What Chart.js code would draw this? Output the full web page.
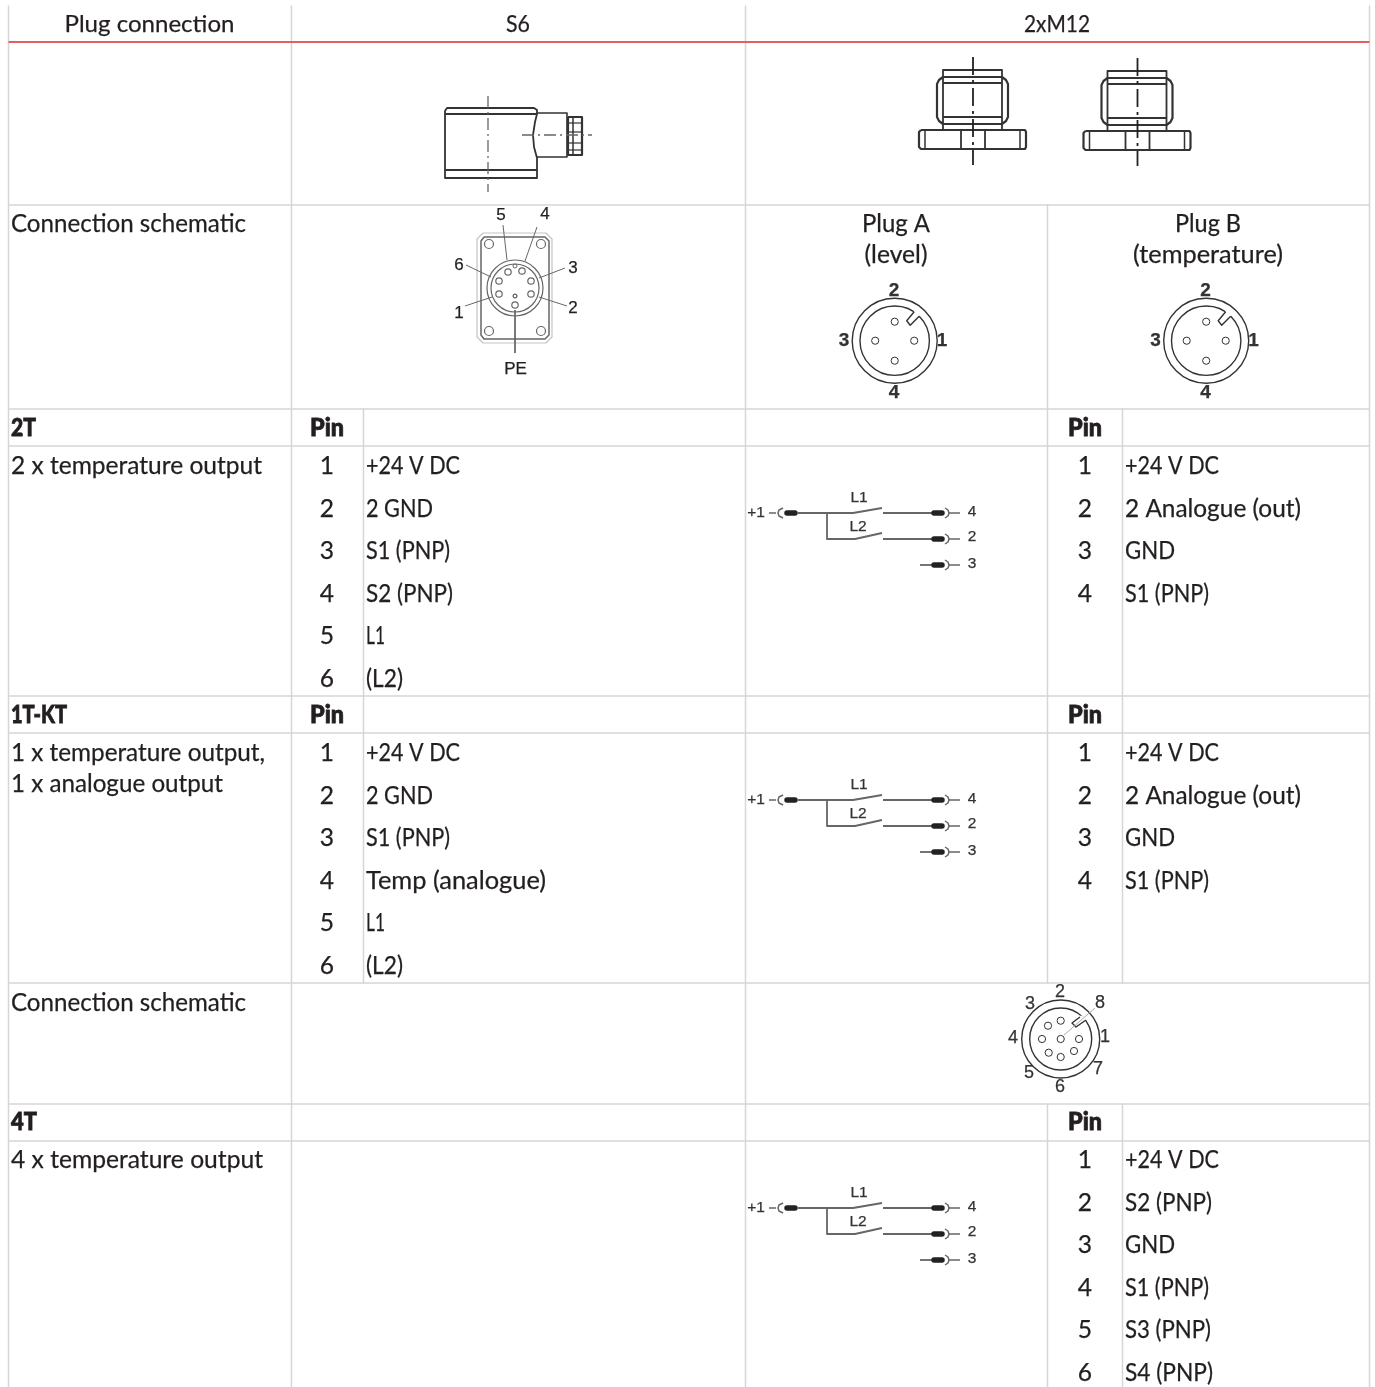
<!DOCTYPE html>
<html>
<head>
<meta charset="utf-8">
<title>Plug connection</title>
<script src="https://cdn.jsdelivr.net/npm/chart.js@4"></script>
<style>
html, body { margin: 0; padding: 0; background: #fff; }
canvas { display: block; }
</style>
</head>
<body>
<canvas id="myChart" width="1375" height="1387"></canvas>
<script>
// table content
const headers = ["Plug connection", "S6", "2xM12"];
const schematicLabel = "Connection schematic";
const sections = ["2T", "1T-KT", "4T"];
const pinHeader = "Pin";
const pinNumbers = ["1", "2", "3", "4", "5", "6"];
const descr2T = ["2 x temperature output"];
const descr1T = ["1 x temperature output,", "1 x analogue output"];
const descr4T = ["4 x temperature output"];
const s6Pins2T = ["+24 V DC", "2 GND", "S1 (PNP)", "S2 (PNP)", "L1", "(L2)"];
const s6Pins1T = ["+24 V DC", "2 GND", "S1 (PNP)", "Temp (analogue)", "L1", "(L2)"];
const plugBPins = ["+24 V DC", "2 Analogue (out)", "GND", "S1 (PNP)"];
const plug4TPins = ["+24 V DC", "S2 (PNP)", "GND", "S1 (PNP)", "S3 (PNP)", "S4 (PNP)"];
const plugALabel = ["Plug A", "(level)"];
const plugBLabel = ["Plug B", "(temperature)"];

// table layout, in page pixels
const colEdges = [8.5, 291.5, 363.5, 745.5, 1047.5, 1122.5, 1369.5];
const ruleYs = [205, 409, 446, 696, 733, 983, 1104, 1141];
const pageBottom = 1387;

// the original typeface has narrow capitals, Lato gets squeezed to these widths
const textWidths = {
    "Plug connection": 170, "S6": 24, "2xM12": 66, "Connection schematic": 235,
    "2 x temperature output": 251, "1 x temperature output,": 254, "1 x analogue output": 212,
    "4 x temperature output": 252, "+24 V DC": 94, "2 GND": 67, "S1 (PNP)": 84, "S2 (PNP)": 87,
    "S3 (PNP)": 86, "S4 (PNP)": 88, "L1": 19, "(L2)": 37, "Temp (analogue)": 180,
    "2 Analogue (out)": 176, "GND": 50, "Plug A": 68, "(level)": 63, "Plug B": 66,
    "(temperature)": 150, "2T": 25, "1T-KT": 56, "4T": 26, "Pin": 34
};

const GRID = "#d6d6d6";
const INK = "#333333";
const GREY = "#666666";
const TEXT = "#231f20";
const BODY_FONT = '24.6px Lato';
const HEAD_FONT = '24px Lato';
const BOLD_FONT = '900 25px Lato';
const ARIAL = 'Liberation Sans';

let datasets = [];
let texts = [];

const poly = (pts, color = INK, width = 1.5, dash = [], cap = 'butt') => {
    datasets.push({
        data: pts.map(p => ({ x: p[0], y: p[1] })),
        showLine: true,
        pointRadius: 0,
        borderColor: color,
        borderWidth: width,
        borderDash: dash,
        borderCapStyle: cap,
        borderJoinStyle: 'round',
        tension: 0
    });
};

const ring = (x, y, r, color = INK, width = 1.5) => {
    datasets.push({
        data: [{ x: x, y: y }],
        showLine: false,
        pointStyle: 'circle',
        pointRadius: r,
        pointBorderWidth: width,
        pointBorderColor: color,
        pointBackgroundColor: 'rgba(0,0,0,0)'
    });
};

const text = (str, x, y, font = BODY_FONT, align = 'left', color = TEXT) => {
    texts.push({ str, x, y, font, align, color });
};

// grid
const vert = (x, y0, y1) => poly([[x, y0], [x, y1]], GRID, 1.5);
const horiz = (y) => poly([[colEdges[0], y], [colEdges[6], y]], GRID, 1.5);
ruleYs.forEach(horiz);
vert(colEdges[0], 6, pageBottom);
vert(colEdges[1], 6, pageBottom);
vert(colEdges[3], 6, pageBottom);
vert(colEdges[6], 6, pageBottom);
vert(colEdges[2], ruleYs[1], ruleYs[5]);
vert(colEdges[4], ruleYs[0], ruleYs[5]);
vert(colEdges[5], ruleYs[1], ruleYs[5]);
vert(colEdges[4], ruleYs[6], pageBottom);
vert(colEdges[5], ruleYs[6], pageBottom);
poly([[colEdges[0], 42], [colEdges[6], 42]], "#e4605f", 2);

// S6 side view
const drawS6Side = () => {
    poly([[445, 176], [445, 111], [447, 108], [534, 108], [537, 110], [537, 114], [535, 122], [533, 135], [534, 147], [537, 158], [537, 178], [445, 178], [445, 176]], INK, 1.8);
    poly([[445, 114], [537, 114]], INK, 2.2);
    poly([[445, 170], [537, 170]], INK, 2.2);
    poly([[537, 113], [567, 113], [567, 157], [537, 157]], INK, 1.6);
    poly([[568, 117], [582, 117], [582, 155], [568, 155], [568, 117]], INK, 2.2);
    poly([[573, 117], [573, 155]]);
    [123, 132, 143, 150].forEach(y => poly([[568, y], [582, y]], INK, 1.2));
    poly([[488, 96], [488, 192]], GREY, 1.3, [12, 4, 2, 4]);
    poly([[522, 135], [592, 135]], GREY, 1.6, [12, 4, 2, 4]);
};

// M12 side view
const drawM12Side = (dx, dy) => {
    const P = (pts, c, w, d) => poly(pts.map(p => [p[0] + dx, p[1] + dy]), c, w, d);
    P([[943, 129], [943, 70], [1002, 70], [1002, 129]], INK, 1.8);
    P([[943, 77], [1002, 77]], INK, 2.2);
    P([[943, 83], [1002, 83]], INK, 2.2);
    P([[943, 117], [1002, 117]], INK, 2.2);
    P([[943, 124], [1002, 124]], INK, 2.2);
    P([[943, 77], [939, 80], [937, 84], [937, 117], [939, 121], [943, 124]], INK, 2.2);
    P([[1002, 77], [1006, 80], [1008, 84], [1008, 117], [1006, 121], [1002, 124]], INK, 2.2);
    P([[921, 130], [1025, 130], [1026, 132], [1026, 147], [1025, 149], [921, 149], [919, 147], [919, 132], [921, 130]], INK, 2.2);
    P([[925, 130], [925, 149]]);
    P([[1020, 130], [1020, 149]]);
    P([[961, 130], [961, 149]], INK, 1.8);
    P([[985, 130], [985, 149]], INK, 1.8);
    P([[973, 57], [973, 165]], "#222", 1.8, [18, 5, 3, 5]);
};

// S6 pin face
const drawS6Face = () => {
    poly([[483, 233], [546, 233], [552, 239], [552, 337], [546, 343], [483, 343], [477, 337], [477, 239], [483, 233]], "#c4c4c4", 1.2);
    poly([[484, 237], [545, 237], [549, 241], [549, 335], [545, 339], [484, 339], [481, 335], [481, 241], [484, 237]], GREY, 1.5);
    [[489, 244], [541, 244], [489, 331], [541, 331]].forEach(c => ring(c[0], c[1], 4.5, GREY, 1.2));
    ring(515, 288, 24, GREY, 1.2);
    ring(515, 288, 28, GREY, 1.2);
    [[508, 272], [522, 271], [499, 281], [531, 281], [499, 294], [531, 294], [515, 305]].forEach(c => ring(c[0], c[1], 3.2, GREY, 1.2));
    ring(515, 296, 2, INK, 1);
    ring(515, 266, 2, GREY, 1);
    const leaders = [
        [[503, 225], [507, 260]], [[537, 227], [525, 261]], [[466, 265], [491, 277]],
        [[565, 268], [539, 278]], [[465, 306], [492, 297]], [[567, 306], [539, 297]], [[515, 310], [515, 353]]
    ];
    leaders.forEach(l => poly(l, GREY, 1));
    const face = '17px ' + ARIAL;
    text("5", 501, 215, face, 'center');
    text("4", 545, 214, face, 'center');
    text("6", 459, 265, face, 'center');
    text("3", 573, 268, face, 'center');
    text("1", 459, 313, face, 'center');
    text("2", 573, 308, face, 'center');
    text("PE", 515.5, 369, face, 'center');
};

// M12 4-pin face
const drawM12Face = (dx) => {
    const cx = 894.7 + dx, cy = 340.7;
    ring(cx, cy, 42.5, INK, 1.4);
    ring(cx, cy, 34.7, INK, 1.4);
    [[0, -19], [-19.5, 0], [19.5, 0], [0, 20]].forEach(o => ring(cx + o[0], cy + o[1], 3.6, INK, 1));
    poly([[cx + 19, cy - 29], [cx + 24, cy - 24]], "#ffffff", 4);
    poly([[cx + 19.5, cy - 29], [cx + 12, cy - 20], [cx + 15.5, cy - 15.5], [cx + 24.5, cy - 24.5]], INK, 1.4);
    const face = 'bold 19px ' + ARIAL;
    text("2", cx - 0.7, 291, face, 'center', "#333");
    text("3", cx - 50.7, 341, face, 'center', "#333");
    text("1", cx + 47.3, 341, face, 'center', "#333");
    text("4", cx - 0.7, 393, face, 'center', "#333");
};

// M12 8-pin face
const drawM12Eight = () => {
    const cx = 1060.7, cy = 1039;
    ring(cx, cy, 39, INK, 1.4);
    ring(cx, cy, 31, INK, 1.4);
    [[0, -18.3], [-12.7, -13.3], [-18.7, 0], [-12, 13.7], [0, 18], [13.3, 12], [18.3, 0], [0, 0]].forEach(o => ring(cx + o[0], cy + o[1], 3.6, INK, 1));
    poly([[1080, 1017], [1086, 1020]], "#ffffff", 4);
    poly([[1080, 1017], [1072, 1023], [1076, 1027], [1086, 1020]], INK, 1.4);
    poly([[1095, 1008], [1064, 1035]], "#aaaaaa", 1);
    const face = '18px ' + ARIAL;
    [["2", 1060, 992], ["3", 1030, 1004], ["8", 1100, 1003], ["4", 1013, 1038], ["1", 1105, 1037], ["5", 1029, 1073], ["7", 1098, 1069], ["6", 1060, 1087]]
        .forEach(l => text(l[0], l[1], l[2], face, 'center', "#333"));
};

// switch wiring diagram
const drawWiring = (dy) => {
    const P = (pts, c, w, cap) => poly(pts.map(p => [p[0], p[1] + dy]), c, w, [], cap);
    const socketR = (x0, y) => {
        P([[x0, y], [933, y]], GREY, 1.8);
        P([[934, y], [942, y]], "#222", 5.5, 'round');
        P([[945, y - 5], [948, y - 3], [949, y], [948, y + 3], [945, y + 5]], GREY, 1.5);
        P([[949, y], [960, y]], GREY, 1.5);
    };
    P([[769, 513], [776, 513]], GREY, 1.5);
    P([[783, 508], [779, 510], [778, 513], [779, 516], [783, 518]], GREY, 1.5);
    P([[787, 513], [795, 513]], "#222", 5.5, 'round');
    P([[797, 513], [853, 513], [882, 508]], GREY, 1.8);
    P([[827, 513], [827, 539], [855, 539], [882, 533]], GREY, 1.8);
    socketR(883, 513);
    socketR(883, 539);
    socketR(920, 565);
    const face = '15.5px ' + ARIAL;
    text("+1", 756, 513 + dy, face, 'center', "#333");
    text("L1", 859, 498 + dy, face, 'center', "#333");
    text("L2", 858, 527 + dy, face, 'center', "#333");
    text("4", 972, 512 + dy, face, 'center', "#333");
    text("2", 972, 537 + dy, face, 'center', "#333");
    text("3", 972, 564 + dy, face, 'center', "#333");
};

drawS6Side();
drawM12Side(0, 0);
drawM12Side(164.5, 1);
drawS6Face();
drawM12Face(0);
drawM12Face(311.5);
drawM12Eight();
drawWiring(0);
drawWiring(287);
drawWiring(695);

// text of the table
const headerCenters = [149.5, 518, 1057];
headers.forEach((h, i) => text(h, headerCenters[i], 24, HEAD_FONT, 'center'));

text(schematicLabel, 11, 224);
plugALabel.forEach((s, i) => text(s, 896, 224 + i * 31, BODY_FONT, 'center'));
plugBLabel.forEach((s, i) => text(s, 1208, 224 + i * 31, BODY_FONT, 'center'));
text(schematicLabel, 11, 1003);

const LEFT = 11, PIN_A = 327, TEXT_A = 366, PIN_B = 1085, TEXT_B = 1125, STEP = 42.6;
const pinColumn = (labels, pinX, textX, y0) => {
    labels.forEach((s, i) => {
        text(pinNumbers[i], pinX, y0 + i * STEP, BODY_FONT, 'center');
        text(s, textX, y0 + i * STEP);
    });
};

text(sections[0], LEFT, 428, BOLD_FONT);
text(pinHeader, PIN_A, 428, BOLD_FONT, 'center');
text(pinHeader, PIN_B, 428, BOLD_FONT, 'center');
descr2T.forEach((s, i) => text(s, LEFT, 466 + i * 31));
pinColumn(s6Pins2T, PIN_A, TEXT_A, 466);
pinColumn(plugBPins, PIN_B, TEXT_B, 466);

text(sections[1], LEFT, 715, BOLD_FONT);
text(pinHeader, PIN_A, 715, BOLD_FONT, 'center');
text(pinHeader, PIN_B, 715, BOLD_FONT, 'center');
descr1T.forEach((s, i) => text(s, LEFT, 753 + i * 31));
pinColumn(s6Pins1T, PIN_A, TEXT_A, 753);
pinColumn(plugBPins, PIN_B, TEXT_B, 753);

text(sections[2], LEFT, 1122, BOLD_FONT);
text(pinHeader, PIN_B, 1122, BOLD_FONT, 'center');
descr4T.forEach((s, i) => text(s, LEFT, 1160 + i * 31));
pinColumn(plug4TPins, PIN_B, TEXT_B, 1160);

const tableText = {
    id: 'tableText',
    afterDatasetsDraw(chart) {
        const ctx = chart.ctx;
        const sx = chart.scales.x, sy = chart.scales.y;
        texts.forEach(t => {
            ctx.save();
            ctx.textBaseline = 'middle';
            ctx.font = t.font;
            ctx.textAlign = t.align;
            ctx.fillStyle = t.color;
            ctx.strokeStyle = t.color;
            ctx.translate(sx.getPixelForValue(t.x), sy.getPixelForValue(t.y));
            const isLato = t.font.includes('Lato');
            if (isLato && textWidths[t.str]) {
                ctx.scale(textWidths[t.str] / ctx.measureText(t.str).width, 1);
            }
            ctx.fillText(t.str, 0, 0);
            // the original text is heavier than Lato
            ctx.lineWidth = t.font === BOLD_FONT ? 0.8 : 0.25;
            ctx.strokeText(t.str, 0, 0);
            ctx.restore();
        });
    }
};

window.onload = () => {
    new Chart(document.getElementById('myChart'), {
        type: 'scatter',
        data: { datasets: datasets.map((d, i) => ({ ...d, order: datasets.length - i })) },
        options: {
            responsive: false,
            animation: false,
            events: [],
            layout: { padding: 0, autoPadding: false },
            plugins: { legend: { display: false }, tooltip: { enabled: false } },
            scales: {
                x: { type: 'linear', display: false, min: 0, max: 1375 },
                y: { type: 'linear', display: false, min: 0, max: 1387, reverse: true }
            }
        },
        plugins: [tableText]
    });
};
</script>
</body>
</html>
